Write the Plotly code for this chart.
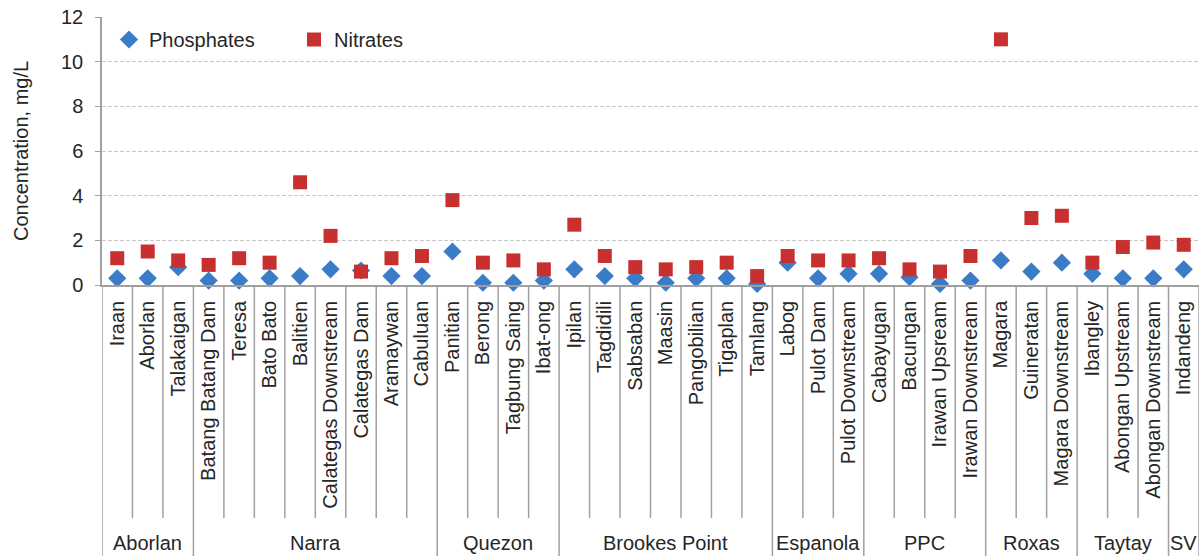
import plotly.graph_objects as go

sites = ["Iraan", "Aborlan", "Talakaigan",
         "Batang Batang Dam", "Teresa", "Bato Bato", "Balitien", "Calategas Downstream",
         "Calategas Dam", "Aramaywan", "Cabuluan",
         "Panitian", "Berong", "Tagbung Saing", "Ibat-ong",
         "Ipilan", "Tagdidili", "Sabsaban", "Maasin", "Pangobilian", "Tigaplan", "Tamlang",
         "Labog", "Pulot Dam", "Pulot Downstream",
         "Cabayugan", "Bacungan", "Irawan Upsream", "Irawan Downstream",
         "Magara", "Guineratan", "Magara Downstream",
         "Ibangley", "Abongan Upstream", "Abongan Downstream",
         "Indandeng"]
group_names = ["Aborlan", "Narra", "Quezon", "Brookes Point", "Espanola", "PPC", "Roxas", "Taytay", "SV"]
group_sizes = [3, 8, 4, 7, 3, 4, 3, 3, 1]

phosphates = [0.3, 0.3, 0.8,
              0.2, 0.2, 0.3, 0.4, 0.7, 0.65, 0.4, 0.4,
              1.5, 0.1, 0.1, 0.2,
              0.7, 0.4, 0.3, 0.1, 0.3, 0.3, 0.05,
              1.0, 0.3, 0.5,
              0.5, 0.35, 0.05, 0.2,
              1.1, 0.6, 1.0,
              0.5, 0.3, 0.3,
              0.7]
nitrates = [1.2, 1.5, 1.1,
            0.9, 1.2, 1.0, 4.6, 2.2, 0.6, 1.2, 1.3,
            3.8, 1.0, 1.1, 0.7,
            2.7, 1.3, 0.8, 0.7, 0.8, 1.0, 0.4,
            1.3, 1.1, 1.1,
            1.2, 0.7, 0.6, 1.3,
            11.0, 3.0, 3.1,
            1.0, 1.7, 1.9,
            1.8]
y_ticks = [0, 2, 4, 6, 8, 10, 12]

W, H = 1199, 556
ML, MR, MT, MB = 102, 0, 17, 271
plot_h = H - MT - MB
plot_w = W - ML - MR


def py(pixel_y):
    # convert a pixel row to paper coordinate
    return (H - MB - pixel_y) / plot_h


FONT = "Liberation Sans, Arial, sans-serif"
TXT = "#262626"
LINEC = "#a0a0a0"

fig = go.Figure()
fig.add_trace(go.Scatter(x=sites, y=phosphates, mode="markers", name="Phosphates",
                         marker=dict(symbol="diamond", size=14, color="#3b7cc8"),
                         cliponaxis=False))
fig.add_trace(go.Scatter(x=sites, y=nitrates, mode="markers", name="Nitrates",
                         marker=dict(symbol="square", size=14, color="#c8302f"),
                         cliponaxis=False))

shapes = []
annotations = []
start = 0
inner_bottom = py(518)
full_bottom = py(556)
for g, n in zip(group_names, group_sizes):
    shapes.append(dict(type="line", xref="x", yref="paper", x0=start - 0.5, x1=start - 0.5,
                       y0=0, y1=full_bottom, line=dict(color=LINEC, width=1.5)))
    for k in range(1, n):
        xi = start + k - 0.5
        shapes.append(dict(type="line", xref="x", yref="paper", x0=xi, x1=xi,
                           y0=0, y1=inner_bottom, line=dict(color=LINEC, width=1.5)))
    annotations.append(dict(x=start + (n - 1) / 2, y=py(543), xref="x", yref="paper",
                            text=g, showarrow=False, yanchor="middle", xanchor="center",
                            font=dict(family=FONT, size=20, color=TXT)))
    start += n
shapes.append(dict(type="line", xref="x", yref="paper", x0=start - 0.5, x1=start - 0.5,
                   y0=0, y1=full_bottom, line=dict(color=LINEC, width=1.5)))

annotations.append(dict(x=(21 - ML) / plot_w, y=0.5, xref="paper", yref="paper",
                        text="Concentration, mg/L", textangle=-90, showarrow=False,
                        xanchor="center", yanchor="middle",
                        font=dict(family=FONT, size=20, color=TXT)))

fig.update_layout(
    width=W, height=H,
    margin=dict(l=ML, r=MR, t=MT, b=MB, pad=0),
    paper_bgcolor="white", plot_bgcolor="white",
    font=dict(family=FONT, size=20, color=TXT),
    showlegend=True,
    legend=dict(orientation="h", x=7 / plot_w, y=py(20), xanchor="left", yanchor="top",
                bgcolor="rgba(0,0,0,0)", entrywidth=140, entrywidthmode="pixels",
                font=dict(family=FONT, size=20, color=TXT)),
    shapes=shapes,
    annotations=annotations,
)
fig.update_xaxes(type="category", categoryorder="array", categoryarray=sites,
                 range=[-0.5, len(sites) - 0.5], tickangle=-90, ticks="",
                 showline=True, linecolor=LINEC, linewidth=1.5, showgrid=False,
                 tickfont=dict(family=FONT, size=20, color=TXT), ticklabelstandoff=6)
fig.update_yaxes(range=[0, 12], tickvals=y_ticks, ticks="outside", ticklen=5,
                 tickcolor=LINEC, showline=True, linecolor=LINEC, linewidth=1.5,
                 showgrid=True, gridcolor="#c8c8c8", gridwidth=1, griddash="4px,2px",
                 zeroline=False, tickfont=dict(family=FONT, size=20, color=TXT),
                 ticklabelstandoff=8)

fig.write_html("out.html", config={"displayModeBar": False},
               post_script="document.body.style.margin='0px';"
                           "document.body.style.overflow='hidden';")
